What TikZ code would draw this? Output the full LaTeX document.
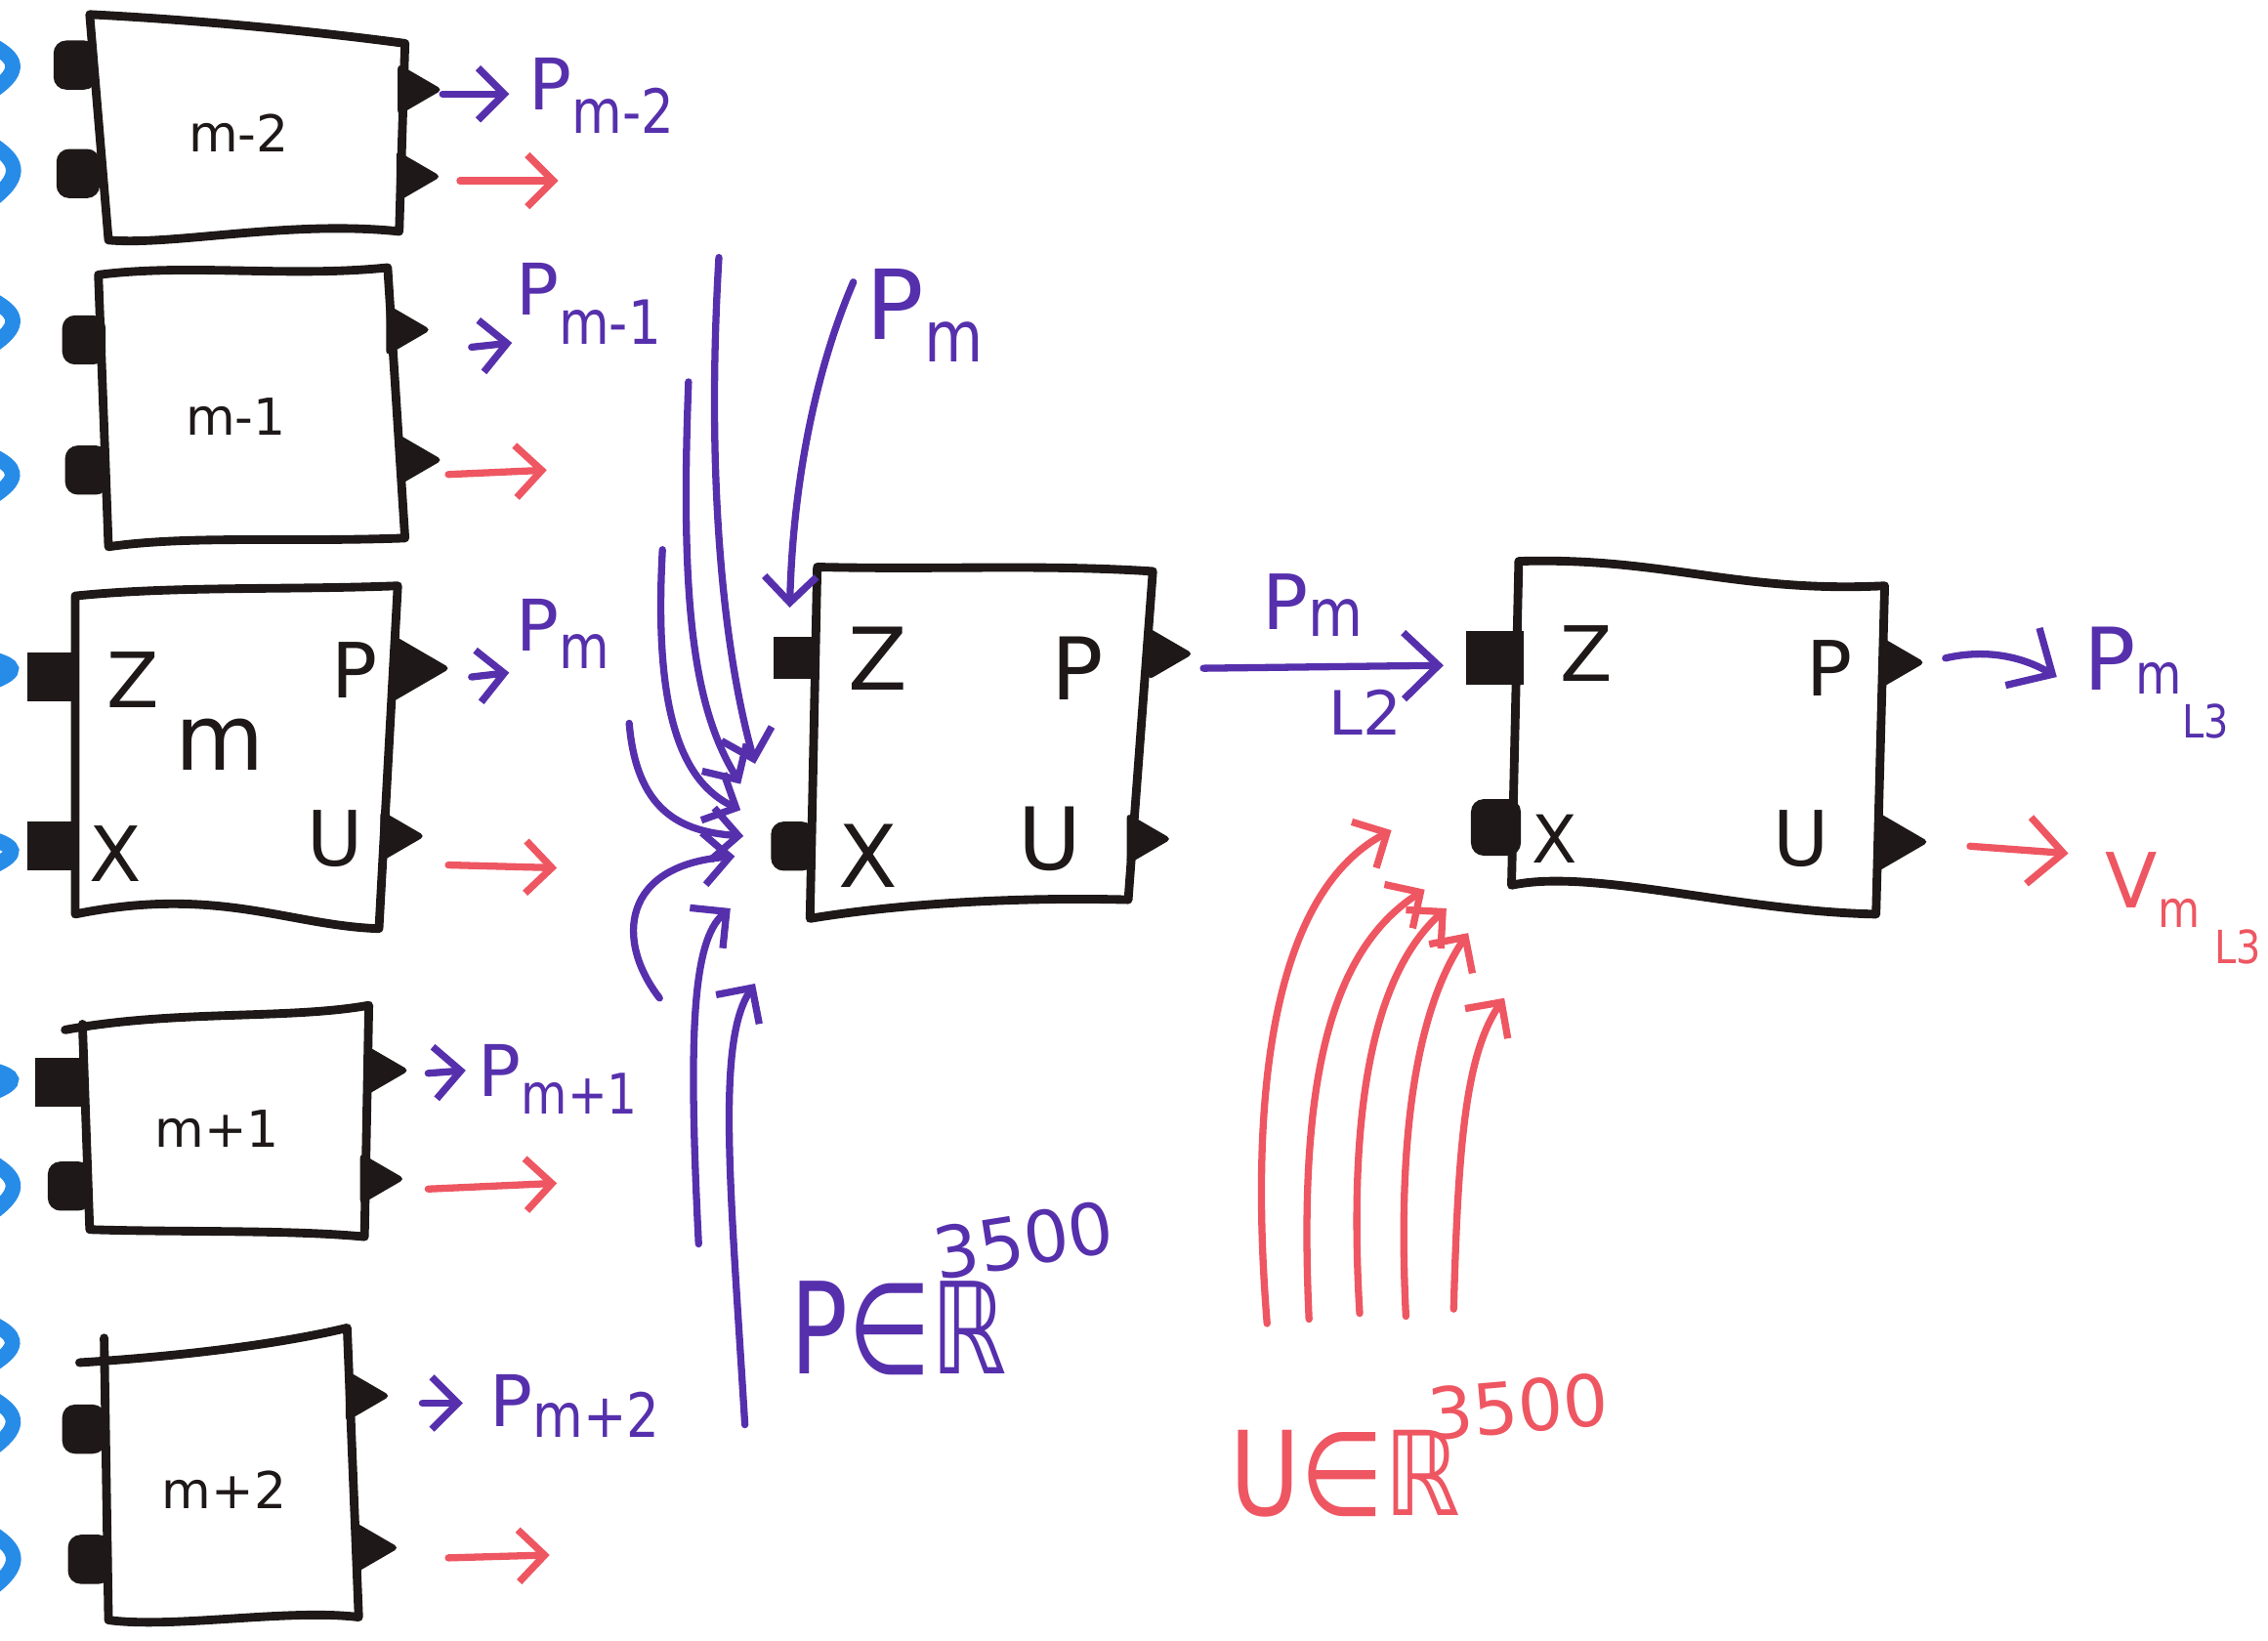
\documentclass[tikz,border=0pt]{standalone}
\usepackage{fontspec}
\setmainfont{DejaVu Sans}
\usetikzlibrary{arrows.meta}
\definecolor{ink}{RGB}{30,24,24}
\definecolor{purp}{RGB}{86,48,172}
\definecolor{redc}{RGB}{238,86,98}
\definecolor{bluec}{RGB}{38,140,232}
% \sbs{font size}{lowering in mm}{text}
\newcommand\sbs[3]{\raisebox{-#2mm}{\fontsize{#1}{#1}\selectfont\scalebox{0.85}[1]{#3}}}
\tikzset{
  boxline/.style={draw=ink, line width=1.7pt, line join=round, line cap=round},
  pline/.style={draw=purp, line width=1.4pt, line cap=round},
  rline/.style={draw=redc, line width=1.4pt, line cap=round},
  bline/.style={draw=bluec, line width=3pt, line cap=round},
  tip/.style={-{Straight Barb[length=1.8mm,width=3.6mm]}},
  bigtip/.style={-{Straight Barb[length=2.4mm,width=4.6mm]}},
  pics/inport/.style={code={\fill[ink, rounded corners=2.5pt] (-27,-17) rectangle (3,17);}},
  pics/sqport/.style={code={\fill[ink] (-33,-17) rectangle (3,17);}},
  pics/outport/.style={code={\fill[ink, rounded corners=1pt] (-3,-18) -- (28,0) -- (-3,18) -- cycle;}},
  blab/.style={text=ink, inner sep=0pt, font=\fontsize{15}{15}\selectfont},
  slab/.style={text=ink, inner sep=0pt, font=\fontsize{10}{10}\selectfont},
  plab/.style={text=purp, inner sep=0pt, anchor=base west, font=\fontsize{14}{14}\selectfont},
  rlab/.style={text=redc, inner sep=0pt, anchor=base west, font=\fontsize{15}{15}\selectfont},
}
\begin{document}
\begin{tikzpicture}[x=0.1mm,y=-0.1mm]
\useasboundingbox (0,0) rectangle (1568,1134);
\fill[white] (0,0) rectangle (1568,1134);

% ---------------- blue arrow tips at the left edge
\foreach \yy/\ss in {48/1, 120/1.2, 224/1, 330/0.9, 464/0.5, 590/0.6, 748/0.5, 822/1.1, 930/0.9, 985/1.1, 1080/1.2}{
  \draw[bline] (-4,\yy-16*\ss) .. controls (10,\yy-8*\ss) and (10+6*\ss,\yy) .. (-4,\yy+14*\ss);
}

% ---------------- left column boxes
% m-2
\draw[boxline] (62,10) .. controls (140,14) and (220,22) .. (280,30) -- (276,160)
  .. controls (200,152) and (120,170) .. (75,166) -- cycle;
\pic at (64,45) {inport}; \pic at (66,120) {inport};
\pic at (278,62) {outport}; \pic at (277,122) {outport};
\node[slab] (lm2) at (165,92) {m-2};
% m-1
\draw[boxline] (68,190) .. controls (130,182) and (200,192) .. (268,185) -- (280,372)
  .. controls (200,375) and (130,370) .. (75,378) -- cycle;
\pic at (70,235) {inport}; \pic at (72,325) {inport};
\pic at (270,228) {outport}; \pic at (278,318) {outport};
\node[slab] (lm1) at (163,288) {m-1};
% m
\draw[boxline] (52,412) .. controls (120,405) and (200,408) .. (275,405) -- (262,642)
  .. controls (200,640) and (150,612) .. (52,632) -- cycle;
\pic at (52,468) {sqport}; \pic at (52,585) {sqport};
\pic[scale=1.3] at (275,462) {outport}; \pic at (266,578) {outport};
\node[blab] (lmz) at (92,470) {Z};
\node[blab] (lmp) at (245,463) {P};
\node[blab] (lmx) at (80,590) {X};
\node[blab] (lmu) at (232,580) {U};
\node[blab, font=\fontsize{18}{18}\selectfont] (lmm) at (152,515) {m};
% m+1
\draw[boxline] (45,712) .. controls (120,698) and (200,705) .. (255,695) -- (252,855)
  .. controls (200,850) and (120,852) .. (62,850) -- (57,708);
\pic at (57,748) {sqport}; \pic at (60,820) {inport};
\pic at (255,740) {outport}; \pic at (252,815) {outport};
\node[slab] (lm3) at (150,780) {m+1};
% m+2
\draw[boxline] (55,942) .. controls (120,938) and (190,930) .. (240,918) -- (248,1118)
  .. controls (200,1112) and (120,1126) .. (75,1120) -- (72,925);
\pic at (70,988) {inport}; \pic at (74,1078) {inport};
\pic at (242,965) {outport}; \pic at (248,1070) {outport};
\node[slab] (lm4) at (155,1030) {m+2};

% outputs of the left column
\coordinate (a1) at (306,65);  \coordinate (b1) at (352,65);
\coordinate (a2) at (326,240); \coordinate (b2) at (354,237);
\coordinate (a3) at (326,468); \coordinate (b3) at (352,465);
\coordinate (a4) at (296,742); \coordinate (b4) at (322,740);
\coordinate (a5) at (292,970); \coordinate (b5) at (320,970);
\draw[pline,tip] (a1) -- (b1);
\draw[pline,tip] (a2) -- (b2);
\draw[pline,tip] (a3) -- (b3);
\draw[pline,tip] (a4) -- (b4);
\draw[pline,tip] (a5) -- (b5);
\node[plab] (t1) at (365,76) {P\sbs{12}{1.6}{m-2}};
\node[plab] (t2) at (356,218) {P\sbs{12}{2.0}{m-1}};
\node[plab] (t3) at (356,450) {P\sbs{12}{1.2}{m}};
\node[plab] (t4) at (330,758) {P\sbs{11}{1.2}{m+1}};
\node[plab] (t5) at (338,986) {P\sbs{12}{0.8}{m+2}};

\coordinate (c1) at (318,125);  \coordinate (d1) at (386,125);
\coordinate (c2) at (310,328);  \coordinate (d2) at (378,325);
\coordinate (c3) at (310,598);  \coordinate (d3) at (385,600);
\coordinate (c4) at (296,822);  \coordinate (d4) at (385,818);
\coordinate (c5) at (310,1077); \coordinate (d5) at (380,1075);
\foreach \i in {1,...,5}{\draw[rline,tip] (c\i) -- (d\i);}

% ---------------- centre box
\draw[boxline] (565,392) .. controls (650,394) and (720,390) .. (797,395) -- (780,622)
  .. controls (700,620) and (620,625) .. (560,635) -- cycle;
\pic[scale=0.85] at (563,455) {sqport}; \pic at (560,585) {inport};
\pic at (797,452) {outport}; \pic at (782,580) {outport};
\node[blab, font=\fontsize{17}{17}\selectfont] (cz) at (607,455) {Z};
\node[blab, font=\fontsize{17}{17}\selectfont] (cp) at (745,462) {P};
\node[blab, font=\fontsize{17}{17}\selectfont] (cx) at (600,592) {X};
\node[blab, font=\fontsize{17}{17}\selectfont] (cu) at (726,580) {U};

% inputs of the centre box
\coordinate (s1) at (497,178); \coordinate (e1) at (522,528);
\coordinate (s2) at (476,264); \coordinate (e2) at (512,542);
\coordinate (s3) at (458,380); \coordinate (e3) at (512,560);
\coordinate (s4) at (435,500); \coordinate (e4) at (514,578);
\coordinate (s5) at (456,690); \coordinate (e5) at (508,592);
\coordinate (s6) at (483,860); \coordinate (e6) at (505,628);
\coordinate (s7) at (515,985); \coordinate (e7) at (522,680);
\coordinate (s8) at (590,195); \coordinate (e8) at (546,420);
\draw[pline,tip] (s1) .. controls (488,330) and (500,450) .. (e1);
\draw[pline,tip] (s2) .. controls (470,420) and (480,490) .. (e2);
\draw[pline,tip] (s3) .. controls (452,490) and (470,540) .. (e3);
\draw[pline,tip] (s4) .. controls (440,560) and (470,575) .. (e4);
\draw[pline,tip] (s5) .. controls (425,650) and (430,598) .. (e5);
\draw[pline,tip] (s6) .. controls (476,720) and (478,650) .. (e6);
\draw[pline,tip] (s7) .. controls (505,820) and (495,720) .. (e7);
\draw[pline,tip] (s8) .. controls (562,260) and (548,340) .. (e8);
\node[plab, font=\fontsize{19}{19}\selectfont] (tpm) at (598,235) {P\sbs{14}{1.5}{m}};
\node[plab, font=\fontsize{25}{25}\selectfont] (tper) at (546,950) {\scalebox{0.75}[1]{P∈ℝ}};
\node[plab, font=\fontsize{14}{14}\selectfont, rotate=9] (t3500a) at (648,885) {3500};

% centre -> right
\coordinate (pa) at (832,462); \coordinate (pb) at (998,460);
\draw[pline,bigtip] (pa) -- (pb);
\node[plab, font=\fontsize{15}{15}\selectfont] (tpl2) at (872,435) {P\sbs{13}{0.5}{m}};
\node[plab, font=\fontsize{12}{12}\selectfont] (tl2) at (918,508) {L2};

% ---------------- right box
\draw[boxline] (1050,388) .. controls (1150,385) and (1200,410) .. (1303,405) -- (1297,632)
  .. controls (1200,630) and (1100,600) .. (1045,612) -- cycle;
\pic[scale=1.1] at (1050,455) {sqport}; \pic[scale=1.15] at (1048,572) {inport};
\pic at (1303,458) {outport}; \pic[scale=1.2] at (1300,582) {outport};
\node[blab] (rz) at (1097,452) {Z};
\node[blab] (rp) at (1265,462) {P};
\node[blab, font=\fontsize{13}{13}\selectfont] (rx) at (1075,580) {X};
\node[blab] (ru) at (1245,580) {U};

% red inputs of the right box
\coordinate (r1) at (876,915);  \coordinate (f1) at (962,574);
\coordinate (r2) at (905,912);  \coordinate (f2) at (985,615);
\coordinate (r3) at (940,908);  \coordinate (f3) at (1000,628);
\coordinate (r4) at (972,910);  \coordinate (f4) at (1015,645);
\coordinate (r5) at (1005,905); \coordinate (f5) at (1040,690);
\draw[rline,tip] (r1) .. controls (862,740) and (885,615) .. (f1);
\draw[rline,tip] (r2) .. controls (898,760) and (915,660) .. (f2);
\draw[rline,tip] (r3) .. controls (932,770) and (948,675) .. (f3);
\draw[rline,tip] (r4) .. controls (966,790) and (978,700) .. (f4);
\draw[rline,tip] (r5) .. controls (1008,800) and (1012,730) .. (f5);
\node[rlab, font=\fontsize{23}{23}\selectfont] (tuer) at (850,1048) {\scalebox{0.82}[1]{U∈ℝ}};
\node[rlab, font=\fontsize{14}{14}\selectfont, rotate=5] (t3500b) at (988,996) {3500};

% outputs of the right box
\coordinate (ga) at (1345,455); \coordinate (gb) at (1422,468);
\draw[pline,bigtip] (ga) .. controls (1375,448) and (1400,455) .. (gb);
\node[plab, font=\fontsize{17}{17}\selectfont] (tpl3) at (1440,477) {P\sbs{11}{0.3}{m}\sbs{9}{3.3}{L3}};
\coordinate (ha) at (1362,585); \coordinate (hb) at (1430,590);
\draw[rline,bigtip] (ha) -- (hb);
\node[rlab] (tvl3) at (1455,628) {V\sbs{10}{1.3}{m}\hspace{1mm}\sbs{9}{3.8}{L3}};
\end{tikzpicture}
\end{document}
